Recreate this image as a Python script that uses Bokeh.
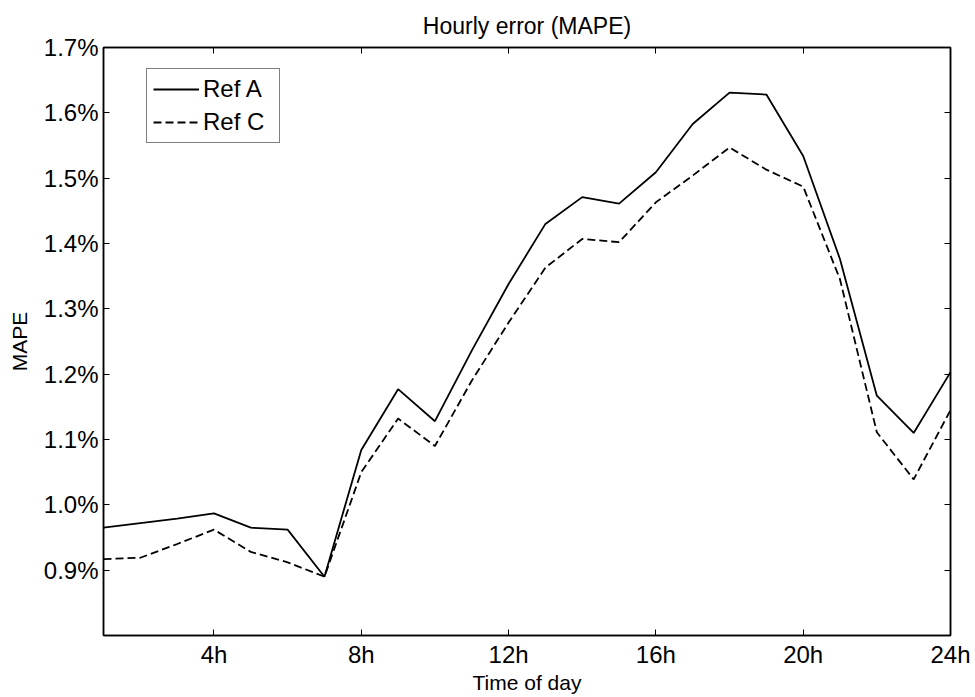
from bokeh.plotting import figure
from bokeh.models import Range1d, LinearAxis, FixedTicker, PrintfTickFormatter, CustomJSTickFormatter, Title
from bokeh.embed import file_html
from bokeh.resources import INLINE

hours = list(range(1, 25))
ref_a = [0.965, 0.972, 0.979, 0.987, 0.965, 0.962, 0.890, 1.084, 1.177, 1.128,
         1.236, 1.338, 1.430, 1.471, 1.461, 1.509, 1.583, 1.631, 1.628, 1.534,
         1.376, 1.167, 1.110, 1.203]
ref_c = [0.917, 0.919, 0.940, 0.962, 0.928, 0.912, 0.890, 1.050, 1.132, 1.090,
         1.190, 1.279, 1.363, 1.407, 1.402, 1.463, 1.504, 1.547, 1.513, 1.487,
         1.345, 1.111, 1.039, 1.145]
x_ticks = [4, 8, 12, 16, 20, 24]
y_ticks = [0.9, 1.0, 1.1, 1.2, 1.3, 1.4, 1.5, 1.6, 1.7]
title_text = "Hourly error (MAPE)"

FONT = "Liberation Sans"

p = figure(width=975, height=697, output_backend="svg", toolbar_location=None,
           x_range=Range1d(1, 24), y_range=Range1d(0.8, 1.7),
           min_border_left=103, min_border_right=25, min_border_top=47,
           min_border_bottom=62)

p.xgrid.visible = False
p.ygrid.visible = False
p.outline_line_color = "black"
p.outline_line_width = 1.5
p.outline_line_alpha = 1

def style(ax, show_labels=True, standoff=5):
    ax.axis_line_color = "black"
    ax.axis_line_width = 1.5
    ax.major_tick_in = 6
    ax.major_tick_out = 0
    ax.minor_tick_in = 0
    ax.minor_tick_out = 0
    ax.major_tick_line_color = "black"
    ax.major_label_text_font = FONT
    ax.major_label_text_color = "black"
    ax.major_label_text_font_size = "24px"
    ax.major_label_standoff = standoff
    if not show_labels:
        ax.formatter = CustomJSTickFormatter(code="return '';")

xa = p.xaxis[0]
xa.ticker = FixedTicker(ticks=x_ticks)
xa.formatter = PrintfTickFormatter(format="%dh")
xa.axis_label = "Time of day"
xa.axis_label_text_font = FONT
xa.axis_label_text_font_size = "21px"
xa.axis_label_text_font_style = "normal"
xa.axis_label_text_color = "black"
xa.axis_label_standoff = 0
style(xa)

ya = p.yaxis[0]
ya.ticker = FixedTicker(ticks=y_ticks)
ya.formatter = PrintfTickFormatter(format="%.1f%%")
ya.axis_label = "MAPE"
ya.axis_label_text_font = FONT
ya.axis_label_text_font_size = "21px"
ya.axis_label_text_font_style = "normal"
ya.axis_label_text_color = "black"
ya.axis_label_standoff = 10
style(ya)

top = LinearAxis(ticker=FixedTicker(ticks=x_ticks))
style(top, False, standoff=0)
p.add_layout(top, "above")
right = LinearAxis(ticker=FixedTicker(ticks=y_ticks))
style(right, False, standoff=0)
p.add_layout(right, "right")

t = Title(text=title_text, align="center", text_font=FONT, text_font_size="23px",
          text_font_style="normal", text_color="black", standoff=8, padding=5)
p.add_layout(t, "above")

p.line(hours, ref_a, line_color="black", line_width=1.8, legend_label="Ref A")
p.line(hours, ref_c, line_color="black", line_width=1.8, line_dash="8 4",
       legend_label="Ref C")

lg = p.legend[0]
lg.location = (43, 492)
lg.border_line_color = "black"
lg.border_line_width = 1.5
lg.background_fill_color = "white"
lg.background_fill_alpha = 1
lg.padding = 6
lg.margin = 0
lg.spacing = 5
lg.glyph_width = 46
lg.glyph_height = 28
lg.label_standoff = 4
lg.label_width = 70
lg.label_text_font = FONT
lg.label_text_font_size = "24px"
lg.label_text_color = "black"

open("out.html", "w").write(file_html(p, INLINE))
